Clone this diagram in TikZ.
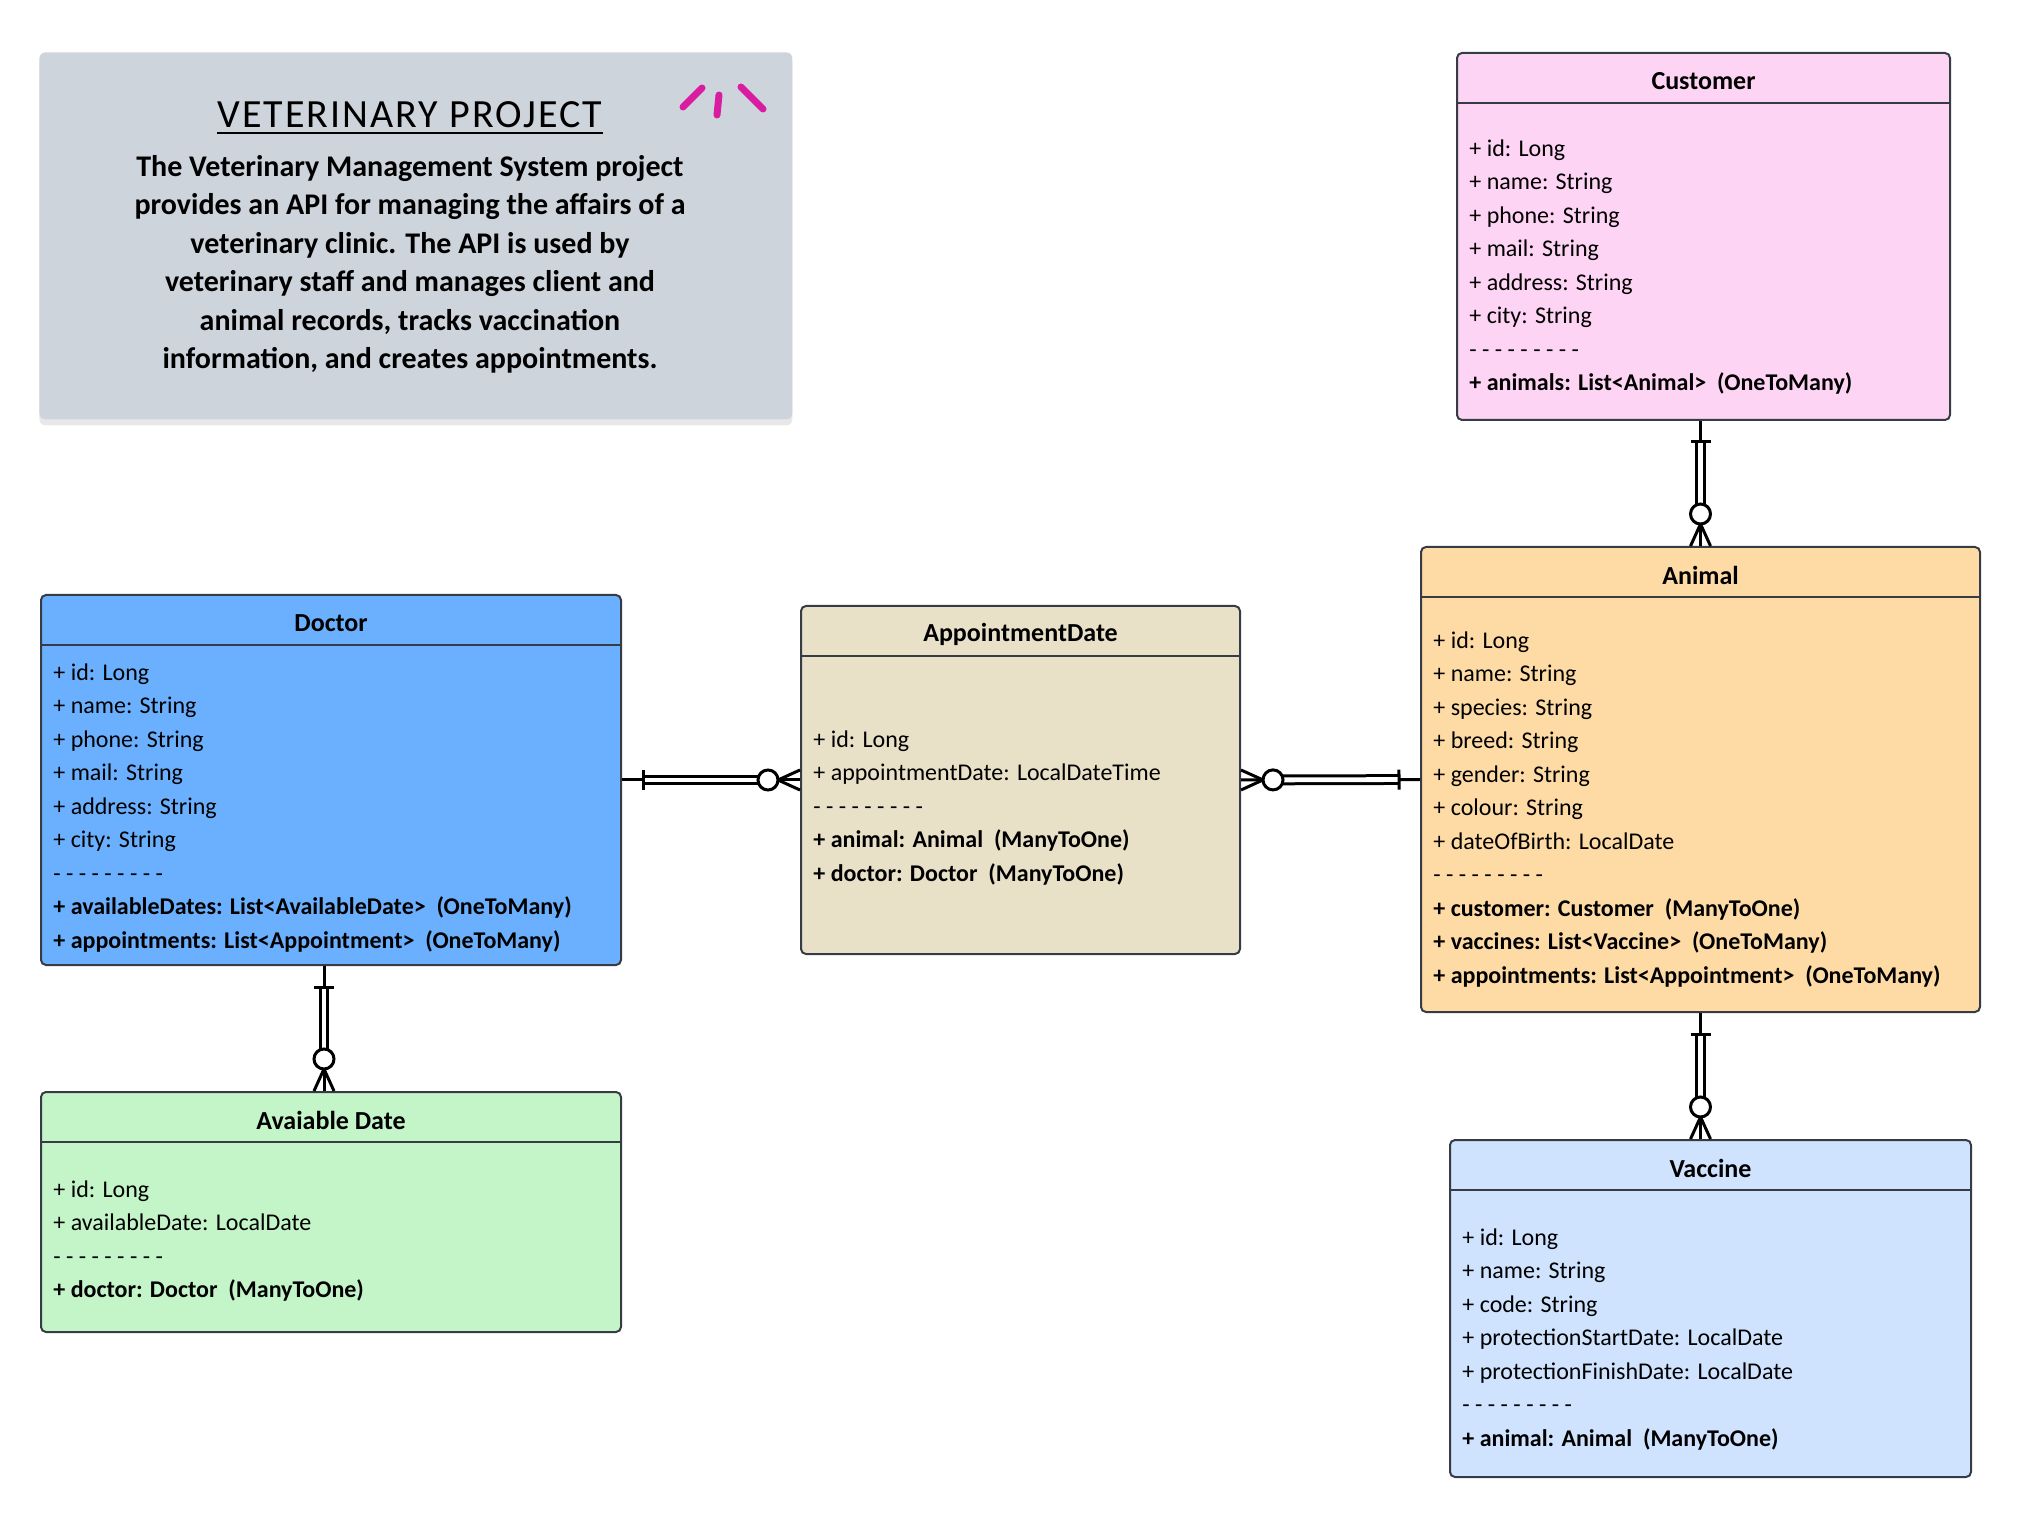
\documentclass[tikz,border=0pt]{standalone}
\usepackage{fontspec}
\setmainfont{Carlito}
\usepackage{tikz}
\usetikzlibrary{shadows}
\usetikzlibrary{decorations.markings}
\definecolor{edge}{HTML}{373C44}
\definecolor{notefill}{HTML}{CED4DC}
\definecolor{accent}{HTML}{D91DA0}
\definecolor{custfill}{HTML}{FED4F4}
\definecolor{animfill}{HTML}{FEDBA4}
\definecolor{docfill}{HTML}{6AB0FE}
\definecolor{apptfill}{HTML}{E8E1C8}
\definecolor{availfill}{HTML}{C3F5C8}
\definecolor{vaccfill}{HTML}{CFE3FE}
\newcommand{\sepline}{- - - - - - - - -}
\tikzset{
  % The project note in the top left corner
  notebox/.style={fill=notefill, rounded corners=3pt, anchor=north west, inner sep=0pt,
    drop shadow={opacity=0.18, shadow xshift=0pt, shadow yshift=-3pt}},
  notehead/.style={font=\fontsize{20}{24}\selectfont\addfontfeatures{LetterSpace=5}, anchor=base, inner sep=0pt},
  notetext/.style={font=\bfseries\fontsize{15}{19.25}\selectfont, align=center, anchor=base, inner sep=0pt},
  scribble/.style={draw=accent, line width=3.5pt, line cap=round},
  % An entity card: coloured box, name in the header, fields below
  % (a field block is anchored at the baseline of its last line)
  entity/.style={draw=edge, line width=1pt, rounded corners=2.5pt, fill=#1,
    anchor=north west, inner sep=0pt},
  ename/.style={font=\bfseries\fontsize{13}{15}\selectfont, inner sep=0pt},
  efields/.style={font=\fontsize{12}{16.75}\selectfont, align=left, anchor=base west, inner sep=0pt},
  hline/.style={draw=edge, line width=1pt},
  % Relationships (one at the start, many at the end)
  rel/.style={draw=black, line width=1.5pt},
  dbl/.style={draw=black, line width=1.5pt, double=white, double distance=2.4pt,
    shorten <=10.5pt, shorten >=16pt},
  ermarks/.style={decoration={markings,
      mark=at position 10.5pt with {\draw[rel] (0,-5pt) -- (0,5pt);},
      mark=at position -16pt with {\draw[rel, fill=white] (0,0) circle (5pt);},
      mark=at position -11pt with {\draw[rel] (0,0) -- (11pt,5pt) (0,0) -- (11pt,-5pt);}},
    postaction={decorate}},
}
\begin{document}
\begin{tikzpicture}[x=0.5pt, y=-0.5pt]
  \useasboundingbox (0,0) rectangle (2020,1518);

  % project note
  \node[notebox, minimum width=376.5pt, minimum height=183.5pt] (intro) at (39,52) {};
  \node[notehead] (introtitle) at (410,128) {VETERINARY PROJECT};
  \draw[line width=1pt] ([yshift=-2.5pt]introtitle.base west) -- ([yshift=-2.5pt]introtitle.base east);
  \node[notetext] (introtext) at (410,369)
       {The Veterinary Management System project\\
        provides an API for managing the affairs of a\\
        veterinary clinic. The API is used by\\
        veterinary staff and manages client and\\
        animal records, tracks vaccination\\
        information, and creates appointments.};
  \draw[scribble] (683,107) -- (702,88);
  \draw[scribble] (719,95) -- (717,115);
  \draw[scribble] (741,87) -- (763,109);

  % Customer
  \node[entity=custfill, minimum width=246.5pt, minimum height=183.5pt] (customer) at (1456,52) {};
  \draw[hline] ([yshift=-25.5pt]customer.north west) -- ([yshift=-25.5pt]customer.north east);
  \node[ename] (customername) at ([yshift=-14.5pt]customer.north) {Customer};
  \node[efields] (customerfields) at ([xshift=6.5pt, yshift=-169.5pt]customer.north west)
       {+ id: Long\\ + name: String\\ + phone: String\\ + mail: String\\
        + address: String\\ + city: String\\ \sepline\\
        \textbf{+ animals: List<Animal>~ (OneToMany)}};

  % Animal
  \node[entity=animfill, minimum width=279.5pt, minimum height=232.5pt] (animal) at (1420,546) {};
  \draw[hline] ([yshift=-25.5pt]animal.north west) -- ([yshift=-25.5pt]animal.north east);
  \node[ename] (animalname) at ([yshift=-14.5pt]animal.north) {Animal};
  \node[efields] (animalfields) at ([xshift=6.5pt, yshift=-218.5pt]animal.north west)
       {+ id: Long\\ + name: String\\ + species: String\\ + breed: String\\
        + gender: String\\ + colour: String\\ + dateOfBirth: LocalDate\\ \sepline\\
        \textbf{+ customer: Customer~ (ManyToOne)}\\
        \textbf{+ vaccines: List<Vaccine>~ (OneToMany)}\\
        \textbf{+ appointments: List<Appointment>~ (OneToMany)}};

  % Doctor
  \node[entity=docfill, minimum width=290pt, minimum height=185pt] (doctor) at (40,594) {};
  \draw[hline] ([yshift=-25.5pt]doctor.north west) -- ([yshift=-25.5pt]doctor.north east);
  \node[ename] (doctorname) at ([yshift=-14.5pt]doctor.north) {Doctor};
  \node[efields] (doctorfields) at ([xshift=6.5pt, yshift=-177pt]doctor.north west)
       {+ id: Long\\ + name: String\\ + phone: String\\ + mail: String\\
        + address: String\\ + city: String\\ \sepline\\
        \textbf{+ availableDates: List<AvailableDate>~ (OneToMany)}\\
        \textbf{+ appointments: List<Appointment>~ (OneToMany)}};

  % AppointmentDate
  \node[entity=apptfill, minimum width=219.5pt, minimum height=174pt] (appt) at (800,605) {};
  \draw[hline] ([yshift=-25.5pt]appt.north west) -- ([yshift=-25.5pt]appt.north east);
  \node[ename] (apptname) at ([yshift=-14.5pt]appt.north) {AppointmentDate};
  \node[efields] (apptfields) at ([xshift=6.5pt, yshift=-138pt]appt.north west)
       {+ id: Long\\ + appointmentDate: LocalDateTime\\ \sepline\\
        \textbf{+ animal: Animal~ (ManyToOne)}\\
        \textbf{+ doctor: Doctor~ (ManyToOne)}};

  % Avaiable Date
  \node[entity=availfill, minimum width=290pt, minimum height=120pt] (avail) at (40,1091) {};
  \draw[hline] ([yshift=-25.5pt]avail.north west) -- ([yshift=-25.5pt]avail.north east);
  \node[ename] (availname) at ([yshift=-14.5pt]avail.north) {Avaiable Date};
  \node[efields] (availfields) at ([xshift=6.5pt, yshift=-103.25pt]avail.north west)
       {+ id: Long\\ + availableDate: LocalDate\\ \sepline\\
        \textbf{+ doctor: Doctor~ (ManyToOne)}};

  % Vaccine
  \node[entity=vaccfill, minimum width=260.5pt, minimum height=168.5pt] (vaccine) at (1449,1139) {};
  \draw[hline] ([yshift=-25.5pt]vaccine.north west) -- ([yshift=-25.5pt]vaccine.north east);
  \node[ename] (vaccinename) at ([yshift=-14.5pt]vaccine.north) {Vaccine};
  \node[efields] (vaccinefields) at ([xshift=6.5pt, yshift=-153.5pt]vaccine.north west)
       {+ id: Long\\ + name: String\\ + code: String\\
        + protectionStartDate: LocalDate\\ + protectionFinishDate: LocalDate\\ \sepline\\
        \textbf{+ animal: Animal~ (ManyToOne)}};

  % one-to-many links
  \draw[rel] (animal.north |- customer.south) -- (animal.north);
  \draw[dbl] (animal.north |- customer.south) -- (animal.north);
  \path[ermarks] (animal.north |- customer.south) -- (animal.north);

  \draw[rel] (doctor.east) -- (appt.west);
  \draw[dbl] (doctor.east) -- (appt.west);
  \path[ermarks] (doctor.east) -- (appt.west);

  \draw[rel] (animal.west) -- (appt.east);
  \draw[dbl] (animal.west) -- (appt.east);
  \path[ermarks] (animal.west) -- (appt.east);

  \draw[rel] ([xshift=-3.5pt]doctor.south) -- ([xshift=-3.5pt]avail.north);
  \draw[dbl] ([xshift=-3.5pt]doctor.south) -- ([xshift=-3.5pt]avail.north);
  \path[ermarks] ([xshift=-3.5pt]doctor.south) -- ([xshift=-3.5pt]avail.north);

  \draw[rel] (animal.south) -- (animal.south |- vaccine.north);
  \draw[dbl] (animal.south) -- (animal.south |- vaccine.north);
  \path[ermarks] (animal.south) -- (animal.south |- vaccine.north);

\end{tikzpicture}
\end{document}
